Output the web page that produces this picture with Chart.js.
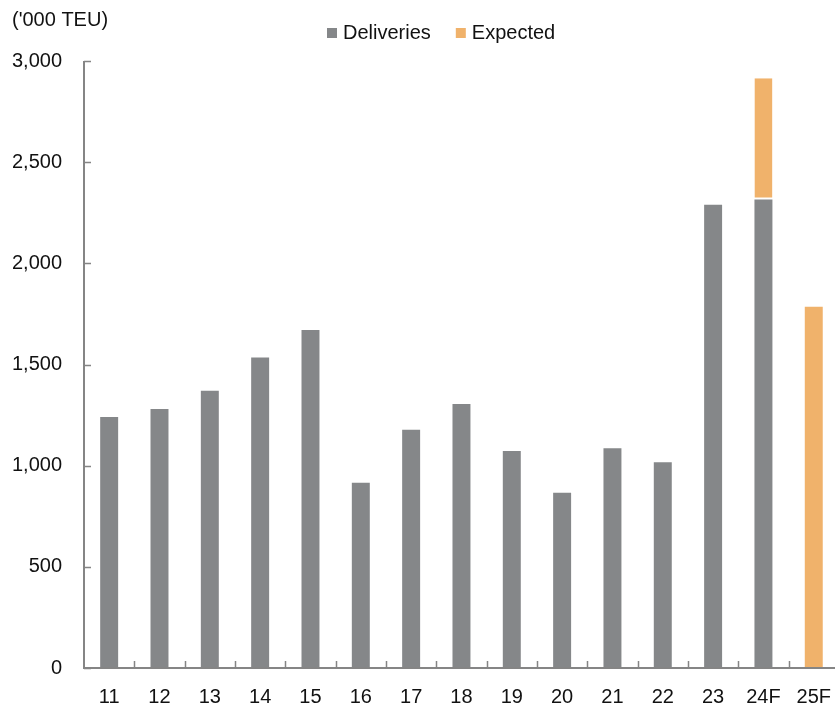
<!DOCTYPE html>
<html>
<head>
<meta charset="utf-8">
<script src="https://cdn.jsdelivr.net/npm/chart.js@4/dist/chart.umd.min.js"></script>
<style>
  html, body { margin: 0; padding: 0; background: #fff; overflow: hidden; }
  #wrap { width: 835px; height: 708px; overflow: hidden; }
  canvas { display: block; }
</style>
</head>
<body>
<div id="wrap">
  <canvas id="deliveries-chart" width="848" height="708" style="width:848px;height:708px"></canvas>
</div>
<script>
/* Container ship deliveries, '000 TEU */

const years      = ["11", "12", "13", "14", "15", "16", "17", "18", "19", "20", "21", "22", "23", "24F", "25F"];
const deliveries = [1240, 1280, 1370, 1535, 1670, 915, 1178, 1305, 1073, 866, 1086, 1017, 2289, 2315, null];
const expected   = [null, null, null, null, null, null, null, null, null, null, null, null, null, 600, 1785];
const yTicks     = [0, 500, 1000, 1500, 2000, 2500, 3000];
const unitLabel  = "('000 TEU)";

const GRAY   = "#858789";
const ORANGE = "#F0B26B";
const AXIS   = "#858585";
const FONT   = "'Liberation Sans', Arial, sans-serif";

// axis lines, inward tick marks, unit label and legend
const decor = {
  id: "decor",
  afterDraw(chart) {
    const { ctx, chartArea: a, scales: { x, y } } = chart;
    ctx.save();
    ctx.strokeStyle = AXIS;
    ctx.lineWidth = 2;

    ctx.beginPath();
    ctx.moveTo(a.left, y.getPixelForValue(3000));
    ctx.lineTo(a.left, a.bottom);
    ctx.lineTo(a.right, a.bottom);
    ctx.stroke();

    ctx.lineWidth = 1.5;
    ctx.beginPath();
    yTicks.forEach(v => {
      const py = Math.round(y.getPixelForValue(v)) + 0.5;
      ctx.moveTo(a.left, py);
      ctx.lineTo(a.left + 7, py);
    });
    for (let i = 1; i < years.length; i++) {
      const px = Math.round((x.getPixelForValue(i - 1) + x.getPixelForValue(i)) / 2) + 0.5;
      ctx.moveTo(px, a.bottom);
      ctx.lineTo(px, a.bottom - 7);
    }
    ctx.stroke();

    ctx.fillStyle = "#111";
    ctx.font = "20px " + FONT;
    ctx.textBaseline = "middle";
    ctx.textAlign = "left";
    ctx.fillText(unitLabel, 12, 20);

    // legend
    let lx = 327;
    const ly = 33;
    chart.data.datasets.forEach(ds => {
      ctx.fillStyle = ds.backgroundColor;
      ctx.fillRect(lx, ly - 5, 10, 10);
      ctx.fillStyle = "#111";
      ctx.fillText(ds.label, lx + 16, ly);
      lx += 16 + ctx.measureText(ds.label).width + 25;
    });
    ctx.restore();
  }
};

new Chart(document.getElementById("deliveries-chart"), {
  type: "bar",
  data: {
    labels: years,
    datasets: [
      {
        label: "Deliveries",
        data: deliveries,
        backgroundColor: GRAY,
        borderWidth: 0,
        barPercentage: 0.357,
        categoryPercentage: 1
      },
      {
        label: "Expected",
        data: expected,
        backgroundColor: ORANGE,
        borderColor: "#fff",
        borderSkipped: false,
        borderWidth: c => c.dataIndex === 13 ? { bottom: 2, top: 0, left: 0, right: 0 } : 0,
        barPercentage: 0.357,
        categoryPercentage: 1
      }
    ]
  },
  options: {
    responsive: false,
    animation: false,
    layout: { padding: { top: 61, left: 12, right: 0, bottom: 0 } },
    plugins: {
      legend: { display: false },
      tooltip: { enabled: false }
    },
    scales: {
      x: {
        stacked: true,
        grid: { display: false, drawTicks: false },
        border: { display: false },
        afterFit: s => { s.height = 40; },
        ticks: { color: "#111", font: { size: 20, family: FONT }, padding: 17, maxRotation: 0 }
      },
      y: {
        stacked: true,
        min: 0,
        max: 3000,
        grid: { display: false, drawTicks: false },
        border: { display: false },
        afterFit: s => { s.width = 72; },
        afterBuildTicks: s => { s.ticks = yTicks.map(v => ({ value: v })); },
        ticks: {
          color: "#111",
          font: { size: 20, family: FONT },
          padding: 22,
          callback: v => v.toLocaleString("en-US")
        }
      }
    }
  },
  plugins: [decor]
});
</script>
</body>
</html>
